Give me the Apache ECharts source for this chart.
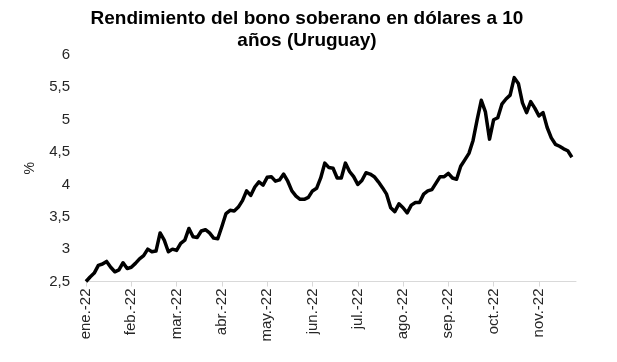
<!DOCTYPE html>
<html>
<head>
<meta charset="utf-8">
<script src="https://cdn.jsdelivr.net/npm/echarts@6/dist/echarts.min.js"></script>
<style>
html,body{margin:0;padding:0;background:#fff;}
#chart{width:617px;height:362px;}
</style>
</head>
<body>
<div id="chart"></div>
<script>
// Month tick labels (one every 11 observations)
var monthLabels = ['ene.-22','feb.-22','mar.-22','abr.-22','may.-22','jun.-22','jul.-22','ago.-22','sep.-22','oct.-22','nov.-22'];
var pointsPerLabel = 11;
var totalSlots = 120;

// Yield values (%)
var yieldValues = [
  2.50, 2.57, 2.63, 2.75, 2.77, 2.81, 2.72, 2.65, 2.68, 2.79,
  2.70, 2.72, 2.78, 2.85, 2.90, 3.00, 2.96, 2.97, 3.25, 3.14,
  2.96, 3.00, 2.98, 3.09, 3.14, 3.32, 3.19, 3.18, 3.28, 3.30,
  3.25, 3.17, 3.16, 3.35, 3.55, 3.60, 3.59, 3.65, 3.75, 3.90,
  3.83, 3.96, 4.04, 3.99, 4.11, 4.12, 4.05, 4.07, 4.16, 4.05,
  3.90, 3.82, 3.77, 3.77, 3.80, 3.90, 3.94, 4.10, 4.33, 4.26,
  4.25, 4.10, 4.10, 4.33, 4.20, 4.12, 4.00, 4.06, 4.18, 4.16,
  4.12, 4.04, 3.95, 3.85, 3.64, 3.58, 3.70, 3.64, 3.56, 3.68,
  3.72, 3.72, 3.85, 3.90, 3.92, 4.02, 4.12, 4.12, 4.17, 4.10,
  4.08, 4.28, 4.38, 4.48, 4.68, 5.00, 5.30, 5.12, 4.70, 5.00,
  5.03, 5.24, 5.32, 5.38, 5.65, 5.56, 5.26, 5.11, 5.28, 5.18,
  5.06, 5.11, 4.88, 4.72, 4.62, 4.59, 4.55, 4.52, 4.42
];

var categories = [];
for (var i = 0; i < totalSlots; i++) {
  categories.push(monthLabels[Math.floor(i / pointsPerLabel)] + '|' + i);
}

var chart = echarts.init(document.getElementById('chart'));
chart.setOption({
  animation: false,
  backgroundColor: '#ffffff',
  title: {
    text: 'Rendimiento del bono soberano en dólares a 10\naños (Uruguay)',
    left: 302,
    textAlign: 'center',
    top: 3,
    textStyle: {
      fontFamily: 'Liberation Sans, Arial, sans-serif',
      fontSize: 19,
      fontWeight: 'bold',
      color: '#000',
      lineHeight: 22
    }
  },
  grid: { left: 86, right: 41, top: 55, bottom: 80.5, containLabel: false },
  xAxis: {
    type: 'category',
    data: categories,
    boundaryGap: false,
    axisLine: { show: true, lineStyle: { color: '#d9d9d9', width: 1 } },
    axisTick: { show: true, interval: pointsPerLabel - 1, length: 5, lineStyle: { color: '#d9d9d9' } },
    axisLabel: {
      interval: pointsPerLabel - 1,
      rotate: 90,
      margin: 7,
      fontFamily: 'Liberation Sans, Arial, sans-serif',
      fontSize: 15,
      color: '#262626',
      formatter: function (v) { return v.split('|')[0]; }
    },
    splitLine: { show: false }
  },
  yAxis: {
    type: 'value',
    min: 2.5,
    max: 6,
    interval: 0.5,
    name: '%',
    nameLocation: 'middle',
    nameRotate: 90,
    nameGap: 49,
    nameTextStyle: { fontFamily: 'Liberation Sans, Arial, sans-serif', fontSize: 14, color: '#262626' },
    axisLine: { show: false },
    axisTick: { show: false },
    splitLine: { show: false },
    axisLabel: {
      margin: 16,
      fontFamily: 'Liberation Sans, Arial, sans-serif',
      fontSize: 15,
      color: '#262626',
      formatter: function (v) { return String(v).replace('.', ','); }
    }
  },
  series: [{
    type: 'line',
    data: yieldValues,
    showSymbol: false,
    symbol: 'none',
    lineStyle: { color: '#000', width: 3.5, join: 'round' },
    itemStyle: { color: '#000' }
  }]
});
</script>
</body>
</html>
